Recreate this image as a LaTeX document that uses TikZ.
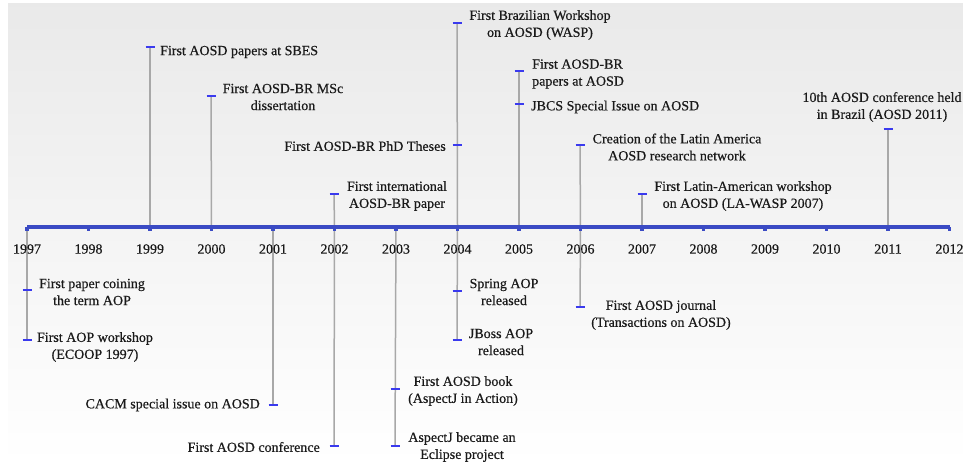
\documentclass[tikz,border=0pt]{standalone}
\usepackage{fontspec}
\setmainfont{Liberation Serif}
\newfontfamily\lblfont{Liberation Serif}[FakeBold=0.5]
\usetikzlibrary{calc}
\definecolor{axisblue}{HTML}{3B4BC4}
\definecolor{markblue}{HTML}{3A3AEE}
\definecolor{stemgray}{HTML}{A8A8A8}
\definecolor{txt}{HTML}{1A1A1A}
\begin{document}
\begin{tikzpicture}[x=1pt,y=-1pt,
  lbl/.style={font=\lblfont\fontsize{14}{17}\selectfont, text=txt, align=center, inner sep=0pt},
  yearlbl/.style={lbl},
  stem/.style={draw=stemgray, line width=1.5pt},
  mk/.style={draw=markblue, line width=2.2pt},
  axisline/.style={draw=axisblue, line width=3.5pt},
  tickmk/.style={fill=axisblue}]
\useasboundingbox (0,0) rectangle (963,464);
\shade[top color=gray!17, bottom color=white] (8,3) rectangle (963,464);
% year positions
\foreach \yr [count=\i from 0] in {1997,...,2012}{
  \coordinate (t\yr) at ({27+61.5*\i},227);
}
% markers
\coordinate (m1999a) at (150,47);
\coordinate (m2000a) at (211,96);
\coordinate (m2002a) at (334,194);
\coordinate (m2004a) at (457,23);
\coordinate (m2004b) at (457,145);
\coordinate (m2005a) at (519,71);
\coordinate (m2005b) at (519,104);
\coordinate (m2006a) at (580,145);
\coordinate (m2007a) at (642,194);
\coordinate (m2011a) at (888,129);
\coordinate (m1997a) at (27,290);
\coordinate (m1997b) at (27,340);
\coordinate (m2001a) at (273,405);
\coordinate (m2002b) at (334,446);
\coordinate (m2003a) at (395,389);
\coordinate (m2003b) at (395,446);
\coordinate (m2004c) at (457,291);
\coordinate (m2004d) at (457,340);
\coordinate (m2006b) at (580,307);
% stems
\draw[stem] (t1999) -- (m1999a);
\draw[stem] (t2000) -- (m2000a);
\draw[stem] (t2002) -- (m2002a);
\draw[stem] (t2004) -- (m2004a);
\draw[stem] (t2005) -- (m2005a);
\draw[stem] (t2006) -- (m2006a);
\draw[stem] (t2007) -- (m2007a);
\draw[stem] (t2011) -- (m2011a);
\draw[stem] (t1997) -- (m1997b);
\draw[stem] (t2001) -- (m2001a);
\draw[stem] (t2002) -- (m2002b);
\draw[stem] (t2003) -- (m2003b);
\draw[stem] (t2004) -- (m2004d);
\draw[stem] (t2006) -- (m2006b);
% axis
\draw[axisline] (t1997) -- (t2012);
\foreach \yr in {1997,...,2012}{
  \fill[tickmk] ($(t\yr)+(-1.8,0)$) rectangle ($(t\yr)+(1.8,4)$);
  \node[yearlbl] (y\yr) at ($(t\yr)+(0,22)$) {\yr};
}
% marker dashes
\foreach \m in {m1999a,m2000a,m2002a,m2004a,m2004b,m2005a,m2005b,m2006a,m2007a,m2011a,
                m1997a,m1997b,m2001a,m2002b,m2003a,m2003b,m2004c,m2004d,m2006b}{
  \draw[mk] ($(\m)+(-4.5,0)$) -- ($(\m)+(4.5,0)$);
}
% labels above
\node[lbl, anchor=west] (l1999a) at (160,52) {First AOSD papers at SBES};
\node[lbl] (l2000a) at (283,97) {First AOSD-BR MSc\\dissertation};
\node[lbl] (l2002a) at (397,196) {First international\\AOSD-BR paper};
\node[lbl] (l2004a) at (540,25) {First Brazilian Workshop\\on AOSD (WASP)};
\node[lbl, anchor=east] (l2004b) at (446,146) {First AOSD-BR PhD Theses};
\node[lbl, anchor=west, align=left] (l2005a) at (532,74) {First AOSD-BR\\papers at AOSD};
\node[lbl, anchor=west] (l2005b) at (531,107) {JBCS Special Issue on AOSD};
\node[lbl] (l2006a) at (677,147) {Creation of the Latin America\\AOSD research network};
\node[lbl] (l2007a) at (743,196) {First Latin-American workshop\\on AOSD (LA-WASP 2007)};
\node[lbl] (l2011a) at (882,107) {10th AOSD conference held\\in Brazil (AOSD 2011)};
% labels below
\node[lbl] (l1997a) at (92,292) {First paper coining\\the term AOP};
\node[lbl] (l1997b) at (95,347) {First AOP workshop\\(ECOOP 1997)};
\node[lbl, anchor=east] (l2001a) at (260,405) {CACM special issue on AOSD};
\node[lbl, anchor=east] (l2002b) at (320,447) {First AOSD conference};
\node[lbl] (l2003a) at (463,391) {First AOSD book\\(AspectJ in Action)};
\node[lbl] (l2003b) at (462,447) {AspectJ became an\\Eclipse project};
\node[lbl] (l2004c) at (504,292) {Spring AOP\\released};
\node[lbl] (l2004d) at (501,342) {JBoss AOP\\released};
\node[lbl] (l2006b) at (661,315) {First AOSD journal\\(Transactions on AOSD)};
\end{tikzpicture}
\end{document}
